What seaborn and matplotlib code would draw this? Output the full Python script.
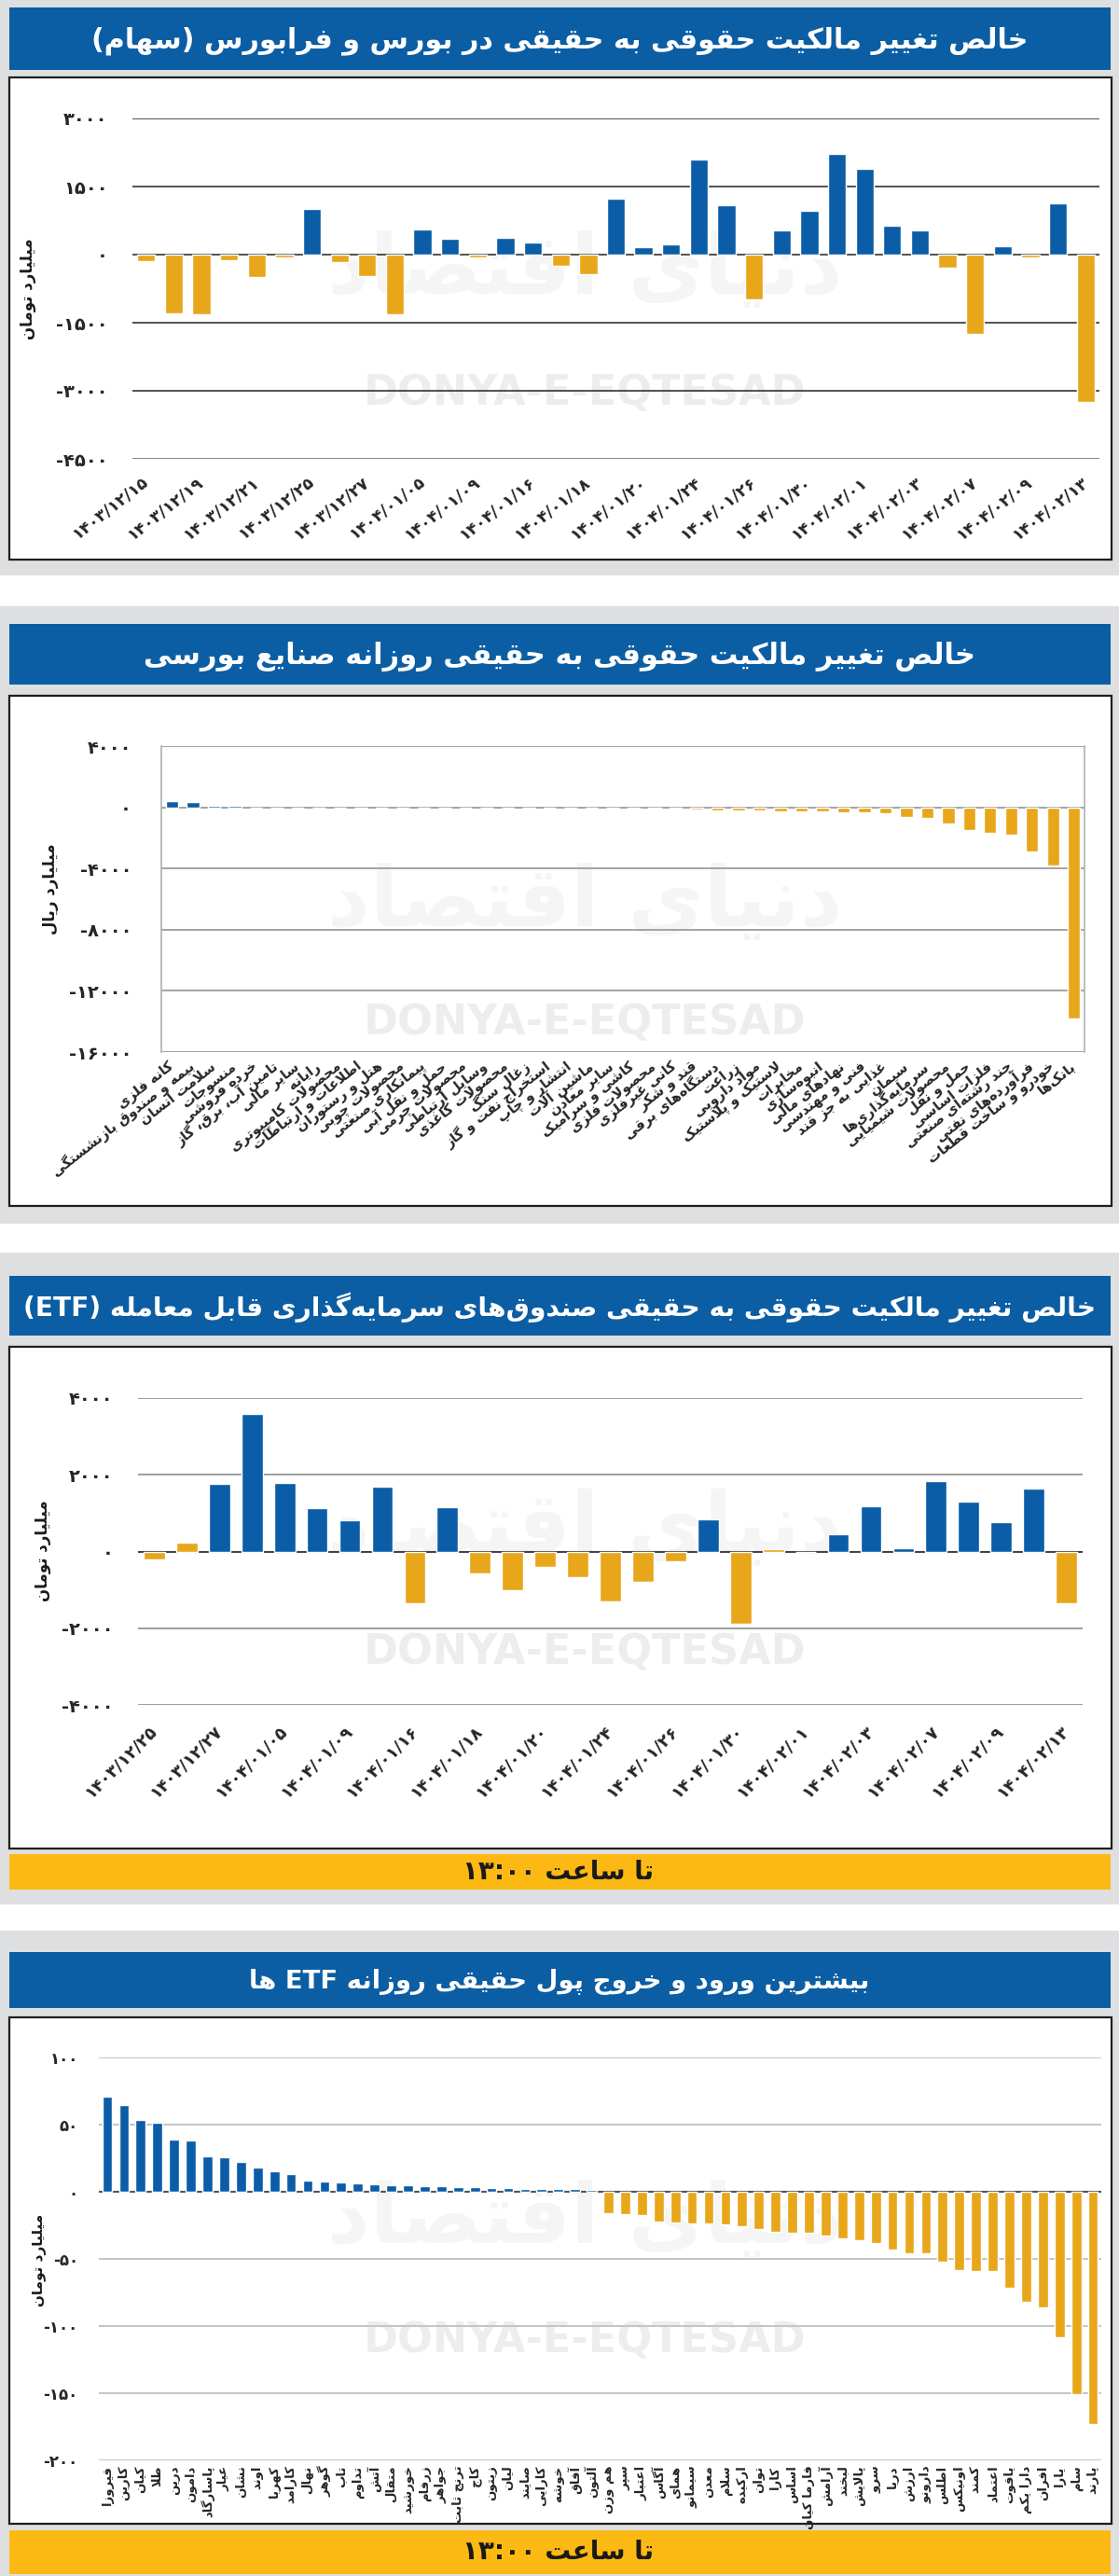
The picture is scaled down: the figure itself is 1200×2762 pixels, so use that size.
import matplotlib
matplotlib.use("Agg")
import matplotlib.pyplot as plt
from matplotlib.patches import Rectangle
import pandas as pd
import seaborn as sns

# ── Data ─────────────────────────────────────────────────────
# chart 1: net change of individual ownership (stocks), billion toman
stock_dates = ["۱۴۰۳/۱۲/۱۵", "۱۴۰۳/۱۲/۱۹", "۱۴۰۳/۱۲/۲۱", "۱۴۰۳/۱۲/۲۵", "۱۴۰۳/۱۲/۲۷",
               "۱۴۰۴/۰۱/۰۵", "۱۴۰۴/۰۱/۰۹", "۱۴۰۴/۰۱/۱۶", "۱۴۰۴/۰۱/۱۸", "۱۴۰۴/۰۱/۲۰",
               "۱۴۰۴/۰۱/۲۴", "۱۴۰۴/۰۱/۲۶", "۱۴۰۴/۰۱/۳۰", "۱۴۰۴/۰۲/۰۱", "۱۴۰۴/۰۲/۰۳",
               "۱۴۰۴/۰۲/۰۷", "۱۴۰۴/۰۲/۰۹", "۱۴۰۴/۰۲/۱۳"]
stock_values = [-140, -1300, -1320, -120, -490, -70, 1000, -170, -480, -1320,
                560, 355, -70, 375, 275, -250, -440, 1230, 155, 230,
                2095, 1085, -990, 525, 975, 2215, 1890, 640, 525, -285,
                -1745, 190, -55, 1130, -3240]
stock_ticks = [3000, 1500, 0, -1500, -3000, -4500]

# chart 2: industries, billion rial
industry_names = ["کانه فلزی", "بیمه و صندوق بازنشستگی", "سلامت انسان", "منسوجات",
                  "خرده فروشی", "تامین آب، برق، گاز", "سایر مالی", "رایانه",
                  "محصولات کامپیوتری", "اطلاعات و ارتباطات", "هتل و رستوران",
                  "محصولات چوبی", "پیمانکاری صنعتی", "حمل و نقل آبی", "محصولات چرمی",
                  "وسایل ارتباطی", "محصولات کاغذی", "زغال سنگ", "استخراج نفت و گاز",
                  "انتشار و چاپ", "ماشین آلات", "سایر معادن", "کاشی و سرامیک",
                  "محصولات فلزی", "کانی غیرفلزی", "قند و شکر", "دستگاه\u200cهای برقی",
                  "زراعت", "مواد دارویی", "لاستیک و پلاستیک", "مخابرات",
                  "انبوه\u200cسازی", "نهادهای مالی", "فنی و مهندسی", "غذایی به جز قند",
                  "سیمان", "سرمایه\u200cگذاری\u200cها", "محصولات شیمیایی", "حمل و نقل",
                  "فلزات اساسی", "چند رشته\u200cای صنعتی", "فرآورده\u200cهای نفتی",
                  "خودرو و ساخت قطعات", "بانک\u200cها"]
industry_values = [390, 350, 80, 70, 0, 0, 0, 0, 0, 0, 0,
                   0, 0, 0, 0, 0, 0, 0, 0, 0, 0, 0,
                   -80, -100, -100, -120, -180, -180, -180, -245, -245, -265, -330,
                   -350, -370, -610, -690, -1060, -1510, -1690, -1780, -2920, -3780, -13780]
industry_ticks = [4000, 0, -4000, -8000, -12000, -16000]

# chart 3: ETFs net change, billion toman
etf_dates = ["۱۴۰۳/۱۲/۲۵", "۱۴۰۳/۱۲/۲۷", "۱۴۰۴/۰۱/۰۵", "۱۴۰۴/۰۱/۰۹", "۱۴۰۴/۰۱/۱۶",
             "۱۴۰۴/۰۱/۱۸", "۱۴۰۴/۰۱/۲۰", "۱۴۰۴/۰۱/۲۴", "۱۴۰۴/۰۱/۲۶", "۱۴۰۴/۰۱/۳۰",
             "۱۴۰۴/۰۲/۰۱", "۱۴۰۴/۰۲/۰۳", "۱۴۰۴/۰۲/۰۷", "۱۴۰۴/۰۲/۰۹", "۱۴۰۴/۰۲/۱۳"]
etf_values = [-210, 235, 1755, 3595, 1780, 1135, 815, 1685, -1340, 1150,
              -580, -1000, -410, -675, -1290, -800, -265, 830, -1880, 60,
              0, 450, 1175, 90, 1825, 1300, 765, 1635, -1340]
etf_side = ["out", "out", "in", "in", "in", "in", "in", "in", "out", "in",
            "out", "out", "out", "out", "out", "out", "out", "in", "out", "out",
            "out", "in", "in", "in", "in", "in", "in", "in", "out"]
etf_ticks = [4000, 2000, 0, -2000, -4000]

# chart 4: top daily in/out of individual money per ETF, billion toman
fund_names = ["فیروزا", "کارین", "کیان", "طلا", "درین", "دامون", "پاسارگاد", "عیار",
              "نشان", "اوند", "کهربا", "کارامد", "نهال", "گوهر", "تاب", "تداوم",
              "آتش", "متقال", "خورشید", "زرفام", "جواهر", "ترنج ثابت", "کاج", "زیتون",
              "لیان", "صایند", "کارایی", "خوشه", "آفاق", "آلتون", "هم وزن", "سپر",
              "اعتبار", "آگاس", "همای", "سیمانو", "معدن", "سلام", "ارکیده", "توان",
              "کارا", "اساس", "فارما کیان", "آرامش", "لبخند", "پالایش", "سرو", "دریا",
              "ارزش", "دارونو", "اطلس", "اونیکس", "کمند", "اعتماد", "یاقوت", "دارا یکم",
              "افران", "یارا", "سام", "پارند"]
fund_values = [70.8, 64.8, 53.7, 51.4, 38.9, 38.4, 26.6, 25.7, 22.5, 18.3,
               15.3, 13.4, 8.3, 7.9, 6.9, 6.0, 5.3, 5.1, 5.1, 4.2,
               4.2, 3.2, 3.2, 2.8, 2.5, 2.3, 2.1, 1.9, 1.9, 1.4,
               -16.3, -17.0, -17.7, -22.1, -22.8, -23.5, -23.7, -24.2, -25.6, -27.9,
               -30.2, -30.7, -30.9, -32.6, -34.9, -36.1, -38.4, -43.0, -45.6, -45.8,
               -51.9, -58.1, -58.8, -58.8, -71.6, -82.1, -86.1, -108.4, -150.7, -172.6]
fund_ticks = [100, 50, 0, -50, -100, -150, -200]

titles = ["خالص تغییر مالکیت حقوقی به حقیقی در بورس و فرابورس (سهام)",
          "خالص تغییر مالکیت حقوقی به حقیقی روزانه صنایع بورسی",
          "خالص تغییر مالکیت حقوقی به حقیقی صندوق\u200cهای سرمایه\u200cگذاری قابل معامله (ETF)",
          "بیشترین ورود و خروج پول حقیقی روزانه ETF ها"]
unit_toman = "میلیارد تومان"
unit_rial = "میلیارد ریال"
time_note = "تا ساعت ۱۳:۰۰"

# ── Persian shaping (matplotlib has no text shaping) ─────────
FORMS = {
    "آ": ("\uFE81", "\uFE82", None, None), "أ": ("\uFE83", "\uFE84", None, None),
    "ؤ": ("\uFE85", "\uFE86", None, None), "إ": ("\uFE87", "\uFE88", None, None),
    "ئ": ("\uFE89", "\uFE8A", "\uFE8B", "\uFE8C"), "ا": ("\uFE8D", "\uFE8E", None, None),
    "ب": ("\uFE8F", "\uFE90", "\uFE91", "\uFE92"), "ة": ("\uFE93", "\uFE94", None, None),
    "ت": ("\uFE95", "\uFE96", "\uFE97", "\uFE98"), "ث": ("\uFE99", "\uFE9A", "\uFE9B", "\uFE9C"),
    "ج": ("\uFE9D", "\uFE9E", "\uFE9F", "\uFEA0"), "ح": ("\uFEA1", "\uFEA2", "\uFEA3", "\uFEA4"),
    "خ": ("\uFEA5", "\uFEA6", "\uFEA7", "\uFEA8"), "د": ("\uFEA9", "\uFEAA", None, None),
    "ذ": ("\uFEAB", "\uFEAC", None, None), "ر": ("\uFEAD", "\uFEAE", None, None),
    "ز": ("\uFEAF", "\uFEB0", None, None), "س": ("\uFEB1", "\uFEB2", "\uFEB3", "\uFEB4"),
    "ش": ("\uFEB5", "\uFEB6", "\uFEB7", "\uFEB8"), "ص": ("\uFEB9", "\uFEBA", "\uFEBB", "\uFEBC"),
    "ض": ("\uFEBD", "\uFEBE", "\uFEBF", "\uFEC0"), "ط": ("\uFEC1", "\uFEC2", "\uFEC3", "\uFEC4"),
    "ظ": ("\uFEC5", "\uFEC6", "\uFEC7", "\uFEC8"), "ع": ("\uFEC9", "\uFECA", "\uFECB", "\uFECC"),
    "غ": ("\uFECD", "\uFECE", "\uFECF", "\uFED0"), "ف": ("\uFED1", "\uFED2", "\uFED3", "\uFED4"),
    "ق": ("\uFED5", "\uFED6", "\uFED7", "\uFED8"), "ك": ("\uFED9", "\uFEDA", "\uFEDB", "\uFEDC"),
    "ل": ("\uFEDD", "\uFEDE", "\uFEDF", "\uFEE0"), "م": ("\uFEE1", "\uFEE2", "\uFEE3", "\uFEE4"),
    "ن": ("\uFEE5", "\uFEE6", "\uFEE7", "\uFEE8"), "ه": ("\uFEE9", "\uFEEA", "\uFEEB", "\uFEEC"),
    "و": ("\uFEED", "\uFEEE", None, None), "ي": ("\uFEF1", "\uFEF2", "\uFEF3", "\uFEF4"),
    "پ": ("\uFB56", "\uFB57", "\uFB58", "\uFB59"), "چ": ("\uFB7A", "\uFB7B", "\uFB7C", "\uFB7D"),
    "ژ": ("\uFB8A", "\uFB8B", None, None), "ک": ("\uFB8E", "\uFB8F", "\uFB90", "\uFB91"),
    "گ": ("\uFB92", "\uFB93", "\uFB94", "\uFB95"), "ی": ("\uFBFC", "\uFBFD", "\uFBFE", "\uFBFF"),
}
LAM_ALEF = {"ا": ("\uFEFB", "\uFEFC"), "آ": ("\uFEF5", "\uFEF6"),
            "أ": ("\uFEF7", "\uFEF8"), "إ": ("\uFEF9", "\uFEFA")}
MIRROR = {"(": ")", ")": "("}


def joins_next(c):
    f = FORMS.get(c)
    return f is not None and f[2] is not None


def shape(text):
    out, i, n = [], 0, len(text)
    while i < n:
        c = text[i]
        if c not in FORMS:
            out.append(c)
            i += 1
            continue
        conn_prev = i > 0 and joins_next(text[i - 1])
        if c == "ل" and i + 1 < n and text[i + 1] in LAM_ALEF:
            lig = LAM_ALEF[text[i + 1]]
            out.append(lig[1] if conn_prev else lig[0])
            i += 2
            continue
        conn_next = joins_next(c) and i + 1 < n and text[i + 1] in FORMS
        f = FORMS[c]
        if conn_prev and conn_next:
            out.append(f[3])
        elif conn_prev:
            out.append(f[1])
        elif conn_next:
            out.append(f[2])
        else:
            out.append(f[0])
        i += 1
    return "".join(out).replace("\u200c", "")


def is_rtl(c):
    if "\u06F0" <= c <= "\u06F9":
        return False
    return "\u0600" <= c <= "\u06FF" or "\uFB50" <= c <= "\uFEFF"


def fa_text(text):
    """shape + simple bidi reorder, for left-to-right rendering"""
    s = shape(text)
    kinds = ["R" if is_rtl(c) else ("L" if c.isalnum() else "N") for c in s]
    res = kinds[:]
    for i, k in enumerate(kinds):
        if k == "N":
            left = next((kinds[j] for j in range(i - 1, -1, -1) if kinds[j] != "N"), "R")
            right = next((kinds[j] for j in range(i + 1, len(s)) if kinds[j] != "N"), "R")
            res[i] = "L" if left == "L" and right == "L" else "R"
    runs = []
    for c, k in zip(s, res):
        if runs and runs[-1][0] == k:
            runs[-1][1].append(c)
        else:
            runs.append([k, [c]])
    out = []
    for k, cs in reversed(runs):
        if k == "R":
            out.extend(MIRROR.get(c, c) for c in reversed(cs))
        else:
            out.extend(cs)
    return "".join(out)


FA_DIGITS = str.maketrans("0123456789", "۰۱۲۳۴۵۶۷۸۹")


def fa_num(v):
    return str(v).translate(FA_DIGITS)


# ── Style ────────────────────────────────────────────────────
W, H = 1200, 2762
BLUE = "#0B5DA7"
ORANGE = "#E8A61B"
TITLE_BLUE = "#0C5EA4"
PANEL_GRAY = "#DEDFE1"
YELLOW = "#FDB913"

sns.set_theme(style="white")
plt.rcParams["font.family"] = ["DejaVu Sans"]
plt.rcParams["axes.unicode_minus"] = False

fig = plt.figure(figsize=(W / 100, H / 100), dpi=100)
fig.patch.set_facecolor("white")
renderer = fig.canvas.get_renderer()


def fbox(x0, y0, x1, y1):
    return [x0 / W, 1 - y1 / H, (x1 - x0) / W, (y1 - y0) / H]


def rect(x0, y0, x1, y1, color, ec="none", lw=0, z=-5):
    l, b, w, h = fbox(x0, y0, x1, y1)
    fig.add_artist(Rectangle((l, b), w, h, transform=fig.transFigure,
                             facecolor=color, edgecolor=ec, linewidth=lw, zorder=z))


def ftext(x, y, s, **kw):
    return fig.text(x / W, 1 - y / H, s, **kw)


def panel(top, bottom, bar_top, bar_bot, box_top, box_bot, title, title_w):
    rect(0, top, W, bottom, PANEL_GRAY, z=-6)
    rect(10, bar_top, 1191, bar_bot, TITLE_BLUE, z=-5)
    rect(10, box_top, 1192, box_bot, "white", ec="#1E1E1E", lw=1.6, z=-5)
    t = ftext(600, (bar_top + bar_bot) / 2 + 2, fa_text(title), ha="center", va="center",
              color="white", fontsize=30, fontweight="bold", zorder=5)
    w = t.get_window_extent(renderer).width
    t.set_fontsize(min(34, 30 * title_w / w))


def watermark(cx, cy_logo, cy_text):
    ftext(cx, cy_logo, fa_text("دنیای اقتصاد"), ha="center", va="center",
          color="#F5F5F5", fontsize=64, fontweight="bold", zorder=-1)
    ftext(cx, cy_text, "DONYA-E-EQTESAD", ha="center", va="center",
          color="#EDEDED", fontsize=32, fontweight="bold", zorder=-1)


def note_bar(y0, y1):
    rect(10, y0, 1191, y1, YELLOW, z=-5)
    ftext(598, (y0 + y1) / 2, fa_text(time_note), ha="center", va="center",
          color="#1A1A1A", fontsize=20, fontweight="bold", zorder=5)


def draw_bars(box, values, sides, width):
    ax = fig.add_axes(fbox(*box))
    ax.set_facecolor("none")
    df = pd.DataFrame({"pos": range(len(values)), "value": values, "side": sides})
    sns.barplot(data=df, x="pos", y="value", hue="side",
                palette={"in": BLUE, "out": ORANGE}, dodge=False, width=width,
                saturation=1, legend=False, ax=ax)
    ax.set_axisbelow(True)
    ax.set_xlim(-0.5, len(values) - 0.5)
    ax.set_xlabel("")
    ax.set_ylabel("")
    ax.tick_params(length=0)
    for s in ax.spines.values():
        s.set_visible(False)
    return ax


def sign_side(values):
    return ["in" if v > 0 else "out" for v in values]


# ============================================================
# Panel 1 — stocks
# ============================================================
panel(0, 617, 8, 75, 83, 600, titles[0], 1005)
watermark(627, 290, 422)
ax1 = draw_bars((142, 127, 1179, 492), stock_values, sign_side(stock_values), 0.65)
ax1.set_ylim(-4500, 3000)
ax1.set_yticks(stock_ticks, [fa_num(v) for v in stock_ticks],
               fontsize=14, fontweight="bold")
for v in stock_ticks:
    ax1.axhline(v, color="#7A7A7A" if v == -4500 else "#333333",
                lw=2.0 if v == -4500 else 1.2, zorder=0.5)
ax1.set_xticks(range(0, len(stock_values), 2), stock_dates, rotation=38,
               ha="right", va="center", rotation_mode="anchor",
               fontsize=12.5, fontweight="bold")
ax1.tick_params(axis="x", pad=16)
ax1.tick_params(axis="y", pad=19)
ftext(30, 310, fa_text(unit_toman), rotation=90, ha="center", va="center",
      fontsize=12, fontweight="bold", color="#1A1A1A")

# ============================================================
# Panel 2 — industries
# ============================================================
panel(650, 1312, 669, 734, 746, 1293, titles[1], 891)
watermark(627, 968, 1097)
ax2 = draw_bars((173, 800, 1163, 1128), industry_values, sign_side(industry_values), 0.6)
ax2.set_ylim(-16000, 4000)
ax2.set_yticks(industry_ticks, [fa_num(v) for v in industry_ticks],
               fontsize=14, fontweight="bold")
for v in industry_ticks:
    ax2.axhline(v, color="#9C9C9C", lw=1.3, zorder=0.5)
for side in ("left", "right"):
    ax2.spines[side].set_visible(True)
    ax2.spines[side].set_color("#B0B0B0")
    ax2.spines[side].set_linewidth(1.2)
ax2.set_xticks(range(len(industry_names)), [fa_text(s) for s in industry_names],
               rotation=38, ha="right", va="center", rotation_mode="anchor",
               fontsize=10.5, fontweight="bold")
ax2.tick_params(axis="x", pad=10)
ax2.tick_params(axis="y", pad=23)
ftext(54, 953, fa_text(unit_rial), rotation=90, ha="center", va="center",
      fontsize=12, fontweight="bold", color="#1A1A1A")

# ============================================================
# Panel 3 — ETFs
# ============================================================
panel(1343, 2042, 1368, 1432, 1444, 1982, titles[2], 1150)
watermark(627, 1640, 1772)
note_bar(1988, 2026)
ax3 = draw_bars((148, 1499, 1161, 1828), etf_values, etf_side, 0.65)
ax3.set_ylim(-4000, 4000)
ax3.set_yticks(etf_ticks, [fa_num(v) for v in etf_ticks],
               fontsize=14, fontweight="bold")
for v in etf_ticks:
    ax3.axhline(v, color="#444444" if v == 0 else "#8C8C8C",
                lw=1.5 if v == 0 else 1.2, zorder=0.5)
ax3.set_xticks(range(0, len(etf_values), 2), etf_dates, rotation=45,
               ha="right", va="center", rotation_mode="anchor",
               fontsize=13, fontweight="bold")
ax3.tick_params(axis="x", pad=18)
ax3.tick_params(axis="y", pad=19)
ftext(46, 1663, fa_text(unit_toman), rotation=90, ha="center", va="center",
      fontsize=12, fontweight="bold", color="#1A1A1A")

# ============================================================
# Panel 4 — top ETF inflows / outflows
# ============================================================
panel(2070, H, 2093, 2153, 2163, 2706, titles[3], 665)
watermark(627, 2380, 2510)
note_bar(2713, 2760)
ax4 = draw_bars((106, 2206, 1181, 2638), fund_values, sign_side(fund_values), 0.6)
ax4.set_ylim(-200, 100)
ax4.set_yticks(fund_ticks, [fa_num(v) for v in fund_ticks],
               fontsize=12, fontweight="bold")
for v in fund_ticks:
    ax4.axhline(v, color="#555555" if v == 0 else "#C4C4C4",
                lw=1.5 if v == 0 else 1.4, zorder=0.5)
ax4.set_xticks(range(len(fund_names)), [fa_text(s) for s in fund_names],
               rotation=90, fontsize=9.5, fontweight="bold")
ax4.tick_params(axis="x", pad=4)
ax4.tick_params(axis="y", pad=16)
ftext(42, 2423, fa_text(unit_toman), rotation=90, ha="center", va="center",
      fontsize=11, fontweight="bold", color="#1A1A1A")

fig.savefig("out.png", dpi=100)
